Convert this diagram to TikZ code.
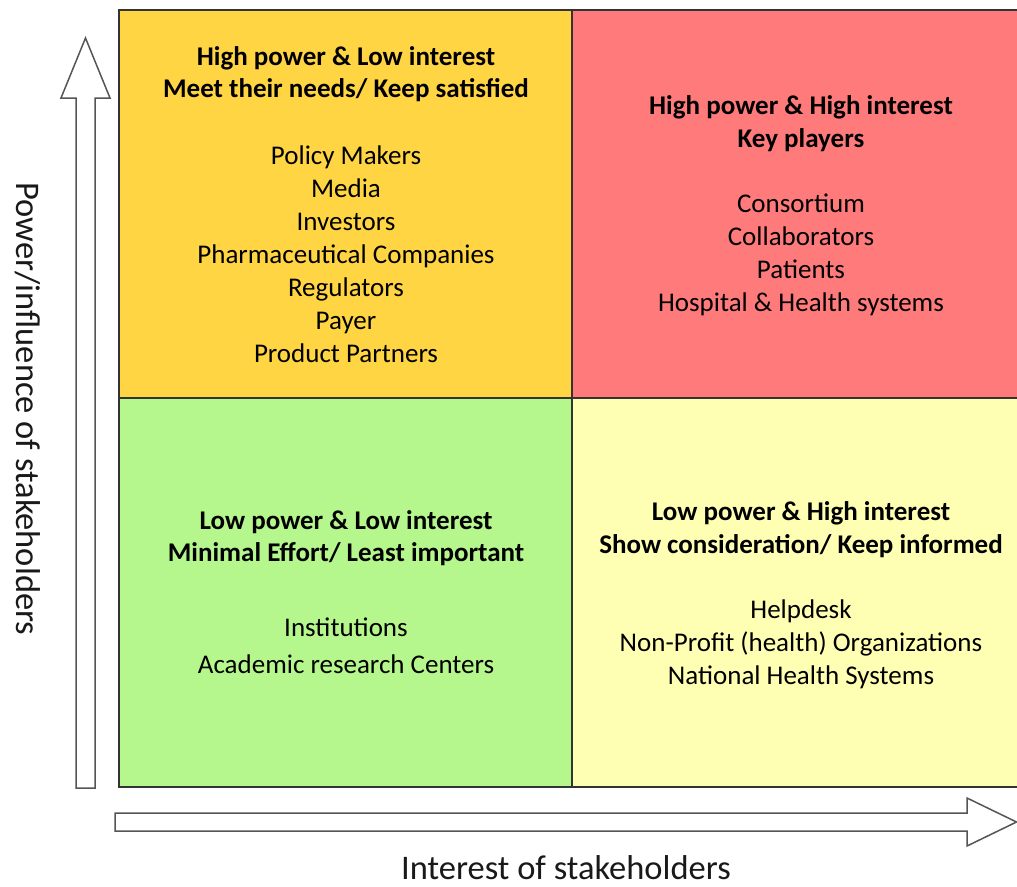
\documentclass[tikz,border=0pt]{standalone}
\usepackage{fontspec}
\setmainfont{Carlito}
\definecolor{qTL}{HTML}{FFD544}
\definecolor{qTR}{HTML}{FF7B7B}
\definecolor{qBL}{HTML}{B5F78D}
\definecolor{qBR}{HTML}{FFFFB4}
\definecolor{edge}{HTML}{333333}
\definecolor{arr}{HTML}{555555}
\tikzset{
  quad/.style={draw=edge, line width=2pt},
  head/.style={font=\fontsize{27}{32.5}\selectfont\bfseries, align=center, inner sep=0pt},
  items/.style={font=\fontsize{27}{33}\selectfont, align=center, inner sep=0pt},
  axislabel/.style={font=\fontsize{34.5}{40}\selectfont, inner sep=0pt, text=black!90},
  blockarrow/.style={draw=arr, fill=white, line width=1.5pt, line join=miter}
}
\begin{document}
\begin{tikzpicture}[x=1pt,y=-1pt]
\useasboundingbox (0,0) rectangle (1017,886);
\clip (0,0) rectangle (1017,886);
% quadrants
\fill[qTL] (119,9.5) rectangle (572,398);
\fill[qTR] (572,9.5) rectangle (1030,398);
\fill[qBL] (119,398) rectangle (572,787);
\fill[qBR] (572,398) rectangle (1030,787);
\draw[quad] (119,9.5) rectangle (1030,787);
\draw[quad] (572,9.5) -- (572,787);
\draw[quad] (119,398) -- (1030,398);
% axis arrows
\draw[blockarrow] (76,788) -- (76,98) -- (61,98) -- (85.5,38) -- (110,98) -- (95,98) -- (95,788) -- cycle;
\draw[blockarrow] (115,813) -- (967,813) -- (967,798) -- (1016.5,822) -- (967,846) -- (967,831) -- (115,831) -- cycle;
% texts
\node[head] (tlh) at (346,74) {High power \& Low interest\\Meet their needs/ Keep satisfied};
\node[items] (tll) at (346,254) {Policy Makers\\Media\\Investors\\Pharmaceutical Companies\\Regulators\\Payer\\Product Partners};
\node[head] (trh) at (801,123.5) {High power \& High interest\\Key players};
\node[items] (trl) at (801,255) {Consortium\\Collaborators\\Patients\\Hospital \& Health systems};
\node[head] (blh) at (346,538) {Low power \& Low interest\\Minimal Effort/ Least important};
\node[items, font=\fontsize{27}{37}\selectfont] (bll) at (346,646) {Institutions\\Academic research Centers};
\node[head] (brh) at (801,529.5) {Low power \& High interest\\Show consideration/ Keep informed};
\node[items] (brl) at (801,644) {Helpdesk\\Non-Profit (health) Organizations\\National Health Systems};
\node[axislabel, anchor=base] (xl) at (566,879) {Interest of stakeholders};
\node[axislabel, rotate=-90] (yl) at (28,409) {Power/influence of stakeholders};
\end{tikzpicture}
\end{document}
